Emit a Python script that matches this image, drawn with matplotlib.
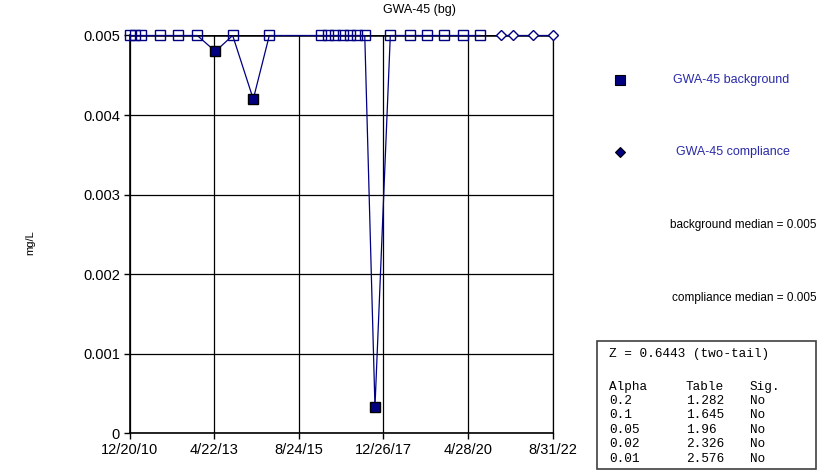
"""
Time series of GWA-45 (bg) concentrations: background vs. compliance samples,
with a Mann-Whitney style summary box on the right.
"""

import matplotlib
matplotlib.use("Agg")
import matplotlib.pyplot as plt
from matplotlib.patches import Rectangle
import pandas as pd

plt.rcParams["font.family"] = ["Liberation Sans", "DejaVu Sans"]

# background samples
bg_dates = pd.to_datetime([
    "2010-12-20", "2011-02-11", "2011-04-13", "2011-10-22", "2012-04-24",
    "2012-11-02", "2013-05-03", "2013-10-25", "2014-05-21", "2014-10-30",
    "2016-03-30", "2016-06-13", "2016-08-27", "2016-11-09", "2017-01-22",
    "2017-04-07", "2017-06-20", "2017-10-01", "2018-03-05", "2018-09-23",
    "2019-03-07", "2019-09-01", "2020-03-05", "2020-08-27",
])
bg_values = [
    0.005, 0.005, 0.005, 0.005, 0.005,
    0.005, 0.0048, 0.005, 0.0042, 0.005,
    0.005, 0.005, 0.005, 0.005, 0.005,
    0.005, 0.005, 0.00033, 0.005, 0.005,
    0.005, 0.005, 0.005, 0.005,
]
# True = detected value (filled marker), False = non-detect (hollow)
bg_detect = [
    False, False, False, False, False,
    False, True, False, True, False,
    False, False, False, False, False,
    False, False, True, False, False,
    False, False, False, False,
]

# compliance samples
comp_dates = pd.to_datetime(["2021-03-24", "2021-07-29", "2022-02-16", "2022-08-31"])
comp_values = [0.005, 0.005, 0.005, 0.005]

x_ticks = pd.to_datetime(["2010-12-20", "2013-04-22", "2015-08-24",
                          "2017-12-26", "2020-04-28", "2022-08-31"])
x_tick_labels = ["12/20/10", "4/22/13", "8/24/15", "12/26/17", "4/28/20", "8/31/22"]
y_ticks = [0, 0.001, 0.002, 0.003, 0.004, 0.005]
y_tick_labels = ["0", "0.001", "0.002", "0.003", "0.004", "0.005"]

bg_median = 0.005
comp_median = 0.005
z_stat = 0.6443
alphas = ["0.2", "0.1", "0.05", "0.02", "0.01"]
table_vals = ["1.282", "1.645", "1.96", "2.326", "2.576"]
sig = ["No", "No", "No", "No", "No"]

NAVY = "#000080"
TEXT_BLUE = "#2a2aa8"
W, H = 839, 473


def fx(x):
    return x / W


def fy(y):
    return 1 - y / H


fig = plt.figure(figsize=(W / 100, H / 100), dpi=100)
ax = fig.add_axes([fx(129.7), fy(433.3), fx(552.7) - fx(129.7), fy(35.5) - fy(433.3)])

ax.set_xlim(x_ticks[0], x_ticks[-1])
ax.set_ylim(0, 0.005)

ax.plot(bg_dates, bg_values, color=NAVY, lw=0.9, zorder=3, clip_on=False)
ax.plot(comp_dates, comp_values, color=NAVY, lw=0.9, zorder=3, clip_on=False)

# median reference line at the top
ax.axhline(bg_median, color="black", lw=1.8, zorder=2)

for d, v, det in zip(bg_dates, bg_values, bg_detect):
    ax.plot([d], [v], marker="s", ms=7, mew=1.0, linestyle="none",
            mec="black" if det else NAVY, mfc=NAVY if det else "none",
            zorder=4, clip_on=False)
ax.plot(comp_dates, comp_values, marker="D", ms=5, mew=1.0, linestyle="none",
        mec=NAVY, mfc="white", zorder=4, clip_on=False)

ax.set_xticks(x_ticks)
ax.set_xticklabels(x_tick_labels, fontsize=10.5)
ax.set_yticks(y_ticks)
ax.set_yticklabels(y_tick_labels, fontsize=10.5)
ax.tick_params(direction="out", length=4, width=1, colors="black", pad=3)
ax.grid(True, color="black", lw=0.9)
ax.set_axisbelow(True)
ax.spines["top"].set_visible(False)
ax.spines["right"].set_color("black")
ax.spines["right"].set_linewidth(0.9)
for side in ("left", "bottom"):
    ax.spines[side].set_linewidth(1.2)

fig.text(fx(419.5), fy(10), "GWA-45 (bg)", ha="center", va="center", fontsize=9)
fig.text(fx(30), fy(243), "mg/L", ha="center", va="center", rotation=90, fontsize=8)

# legend-like labels on the right
fig.lines.append(plt.Line2D([fx(620)], [fy(80)], transform=fig.transFigure,
                            marker="s", ms=6.5, mfc=NAVY, mec="black", mew=0.8))
fig.lines.append(plt.Line2D([fx(620)], [fy(152)], transform=fig.transFigure,
                            marker="D", ms=5, mfc=NAVY, mec="black", mew=0.8))
fig.text(fx(731), fy(80), "GWA-45 background", ha="center", va="center",
         fontsize=9, color=TEXT_BLUE)
fig.text(fx(733), fy(152), "GWA-45 compliance", ha="center", va="center",
         fontsize=9, color=TEXT_BLUE)
fig.text(fx(817), fy(225), f"background median = {bg_median:g}", ha="right",
         va="center", fontsize=8.5)
fig.text(fx(817), fy(298), f"compliance median = {comp_median:g}", ha="right",
         va="center", fontsize=8.5)

# statistics box
fig.patches.append(Rectangle((fx(597), fy(469)), fx(816) - fx(597), fy(341) - fy(469),
                             transform=fig.transFigure, fill=False,
                             edgecolor="#404040", lw=1.2))
mono = dict(family=["Liberation Mono", "DejaVu Sans Mono"], fontsize=9.2, va="center")
fig.text(fx(609), fy(354), f"Z = {z_stat} (two-tail)", **mono)
row_y = [387, 401, 415, 430, 444, 459]
fig.text(fx(609), fy(row_y[0]), "Alpha", **mono)
fig.text(fx(686), fy(row_y[0]), "Table", **mono)
fig.text(fx(750), fy(row_y[0]), "Sig.", **mono)
for yy, a, t, s in zip(row_y[1:], alphas, table_vals, sig):
    fig.text(fx(609), fy(yy), a, **mono)
    fig.text(fx(686), fy(yy), t, **mono)
    fig.text(fx(750), fy(yy), s, **mono)

fig.savefig("out.png", dpi=100)
